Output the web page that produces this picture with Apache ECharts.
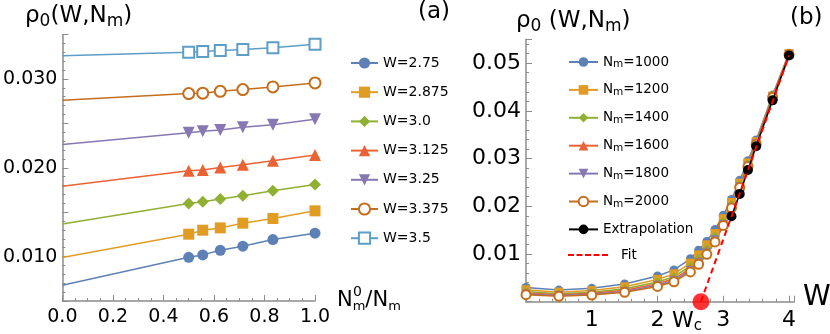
<!DOCTYPE html>
<html><head><meta charset="utf-8">
<script src="https://cdn.jsdelivr.net/npm/echarts@6/dist/echarts.min.js"></script>
<style>html,body{margin:0;padding:0;background:#fff}#c{width:830px;height:334px}</style>
</head><body><div id="c"></div>
<script>
// ---------- DATA ----------
const W_VALUES = [0, 0.5, 1, 1.5, 2, 2.25, 2.5, 2.625, 2.75, 2.875, 3, 3.125, 3.25, 3.375, 3.5, 3.75, 4];
const NM_VALUES = [1000, 1200, 1400, 1600, 1800, 2000];
const N0M = 1000;
const rho1000 = [0.0030, 0.00244, 0.0028, 0.0037, 0.0054, 0.00667, 0.0090, 0.0108, 0.01263, 0.01515, 0.01812, 0.02143, 0.02545, 0.02955, 0.0339, 0.0433, 0.0521];
const rho1200 = [0.00249, 0.00200, 0.00233, 0.00312, 0.00467, 0.00584, 0.00808, 0.00982, 0.01192, 0.01429, 0.0174, 0.0208, 0.02485, 0.0291, 0.0335, 0.0431, 0.0520];
const rho1400 = [0.00212, 0.00169, 0.0020, 0.00271, 0.00414, 0.00524, 0.00743, 0.00912, 0.01117, 0.01376, 0.01684, 0.02034, 0.02455, 0.0288, 0.0333, 0.0430, 0.0519];
const rho1600 = [0.00185, 0.00146, 0.00175, 0.0024, 0.00375, 0.0048, 0.00694, 0.00859, 0.01071, 0.01323, 0.01647, 0.02004, 0.02425, 0.0286, 0.0332, 0.0429, 0.05188];
const rho1800 = [0.00163, 0.00128, 0.00156, 0.00215, 0.00344, 0.00445, 0.00656, 0.00818, 0.01019, 0.01297, 0.01617, 0.01974, 0.0241, 0.0284, 0.0331, 0.04286, 0.05183];
const rho2000 = [0.00146, 0.00113, 0.0014, 0.00196, 0.0032, 0.00417, 0.00625, 0.00785, 0.00992, 0.01252, 0.01598, 0.01966, 0.02395, 0.02835, 0.0330, 0.0428, 0.0518];
const extrapW = [3.125, 3.25, 3.375, 3.5, 3.75, 4];
const extrapRho = [0.0179, 0.0226, 0.0276, 0.0326, 0.0422, 0.0516];
const leftWLabels = ['2.75', '2.875', '3.0', '3.125', '3.25', '3.375', '3.5'];
const leftWIndex = [8, 9, 10, 11, 12, 13, 14];
const leftIntercept = [0.00677, 0.00989, 0.01368, 0.01793, 0.02263, 0.0276, 0.0326];
const fitW = [2.66, 4];
const fitRho = [0, 0.0516];
const wcPoint = [2.66, 0];

// ---------- STYLE ----------
const FONT = 'DejaVu Sans';
const rhoByNm = [rho1000, rho1200, rho1400, rho1600, rho1800, rho2000];
const COLORS = ['#5E81B5', '#E19C24', '#8FB032', '#EB6235', '#8778B3', '#C56E1A', '#5D9EC7'];
const DOWN = 'path://M0,0L20,0L10,17Z';
const SYMS = ['circle', 'rect', 'diamond', 'triangle', DOWN, 'emptyCircle', 'emptyRect'];
const SIZE_L = [11, 11, 12, 12, 12, 11, 11];
const SIZE_R = [9, 9, 9, 9, 9, 9];
const AX = '#8c8c8c';
const DASH_ICON = 'path://M0,0h6v2h-6zM8.5,0h6v2h-6zM17,0h6v2h-6zM25.5,0h6v2h-6zM34,0h6v2h-6z';

function axisCommon() {
  return {
    axisLine: {show: true, onZero: false, lineStyle: {color: AX, width: 1.5}},
    axisTick: {show: true, inside: true, length: 6, lineStyle: {color: AX, width: 1}},
    minorTick: {show: true, length: 3, lineStyle: {color: AX, width: 1}},
    splitLine: {show: false},
    axisLabel: {color: '#000', fontFamily: FONT}
  };
}
function near(v, step) { return Math.abs(v / step - Math.round(v / step)) < 1e-6; }

const series = [];
// Left panel
leftWLabels.forEach((lab, k) => {
  const data = [{value: [0, leftIntercept[k]], symbol: 'none'}];
  NM_VALUES.slice().reverse().forEach((n) => {
    const j = NM_VALUES.indexOf(n);
    data.push([N0M / n, rhoByNm[j][leftWIndex[k]]]);
  });
  series.push({
    name: 'W=' + lab, type: 'line', xAxisIndex: 0, yAxisIndex: 0,
    data, symbol: SYMS[k], symbolSize: SIZE_L[k], showAllSymbol: true,
    lineStyle: {color: COLORS[k], width: 1.5},
    itemStyle: {color: COLORS[k], borderColor: COLORS[k], borderWidth: (k >= 5 ? 1.6 : 0)},
    emphasis: {disabled: true}
  });
});
// Right panel
NM_VALUES.forEach((n, j) => {
  series.push({
    name: 'N_m=' + n, type: 'line', xAxisIndex: 1, yAxisIndex: 1,
    data: W_VALUES.map((w, i) => [w, rhoByNm[j][i]]),
    symbol: SYMS[j], symbolSize: SIZE_R[j], showAllSymbol: true,
    lineStyle: {color: COLORS[j], width: 1.5},
    itemStyle: {color: COLORS[j], borderColor: COLORS[j], borderWidth: (j >= 5 ? 1.5 : 0)},
    emphasis: {disabled: true}
  });
});
series.push({
  name: 'Extrapolation', type: 'line', xAxisIndex: 1, yAxisIndex: 1,
  data: extrapW.map((w, i) => [w, extrapRho[i]]),
  symbol: 'circle', symbolSize: 10, lineStyle: {color: '#000', width: 1.5},
  itemStyle: {color: '#000'}, z: 5, emphasis: {disabled: true}
});
series.push({
  name: 'Fit', type: 'line', xAxisIndex: 1, yAxisIndex: 1,
  data: fitW.map((w, i) => [w, fitRho[i]]),
  symbol: 'none', lineStyle: {color: '#ff0000', width: 2, type: [6, 4]},
  itemStyle: {color: '#ff0000'}, z: 6, emphasis: {disabled: true}
});
series.push({
  name: 'Wc', type: 'scatter', xAxisIndex: 1, yAxisIndex: 1,
  data: [wcPoint], symbol: 'circle', symbolSize: 17,
  itemStyle: {color: '#ff0000'}, z: 7, emphasis: {disabled: true}
});

const rich = {
  n: {fontSize: 13.5, fontFamily: FONT, color: '#000', lineHeight: 16},
  s: {fontSize: 10.5, fontFamily: FONT, color: '#000', lineHeight: 10, verticalAlign: 'bottom'}
};
function richText(x, y, text, big, small) {
  return {type: 'text', x, y, style: {text, align: 'left', verticalAlign: 'top', rich: {
    a: {fontSize: big, fontFamily: FONT, fill: '#000', lineHeight: big + 4},
    s: {fontSize: small, fontFamily: FONT, fill: '#000', lineHeight: small, verticalAlign: 'bottom'}}}};
}

const option = {
  animation: false,
  backgroundColor: '#fff',
  grid: [
    {left: 60, top: 34.5, width: 255, height: 266.5},
    {left: 526, top: 39.3, width: 268.3, height: 262.4}
  ],
  xAxis: [
    Object.assign(axisCommon(), {gridIndex: 0, type: 'value', min: 0, max: 1, interval: 0.2,
      minorTick: {show: true, splitNumber: 4, length: 3, lineStyle: {color: AX}},
      axisLabel: {color: '#000', fontFamily: FONT, fontSize: 19, margin: 7, formatter: v => v.toFixed(1)}}),
    Object.assign(axisCommon(), {gridIndex: 1, type: 'value', min: 0, max: 4.08, interval: 1,
      minorTick: {show: true, splitNumber: 5, length: 3, lineStyle: {color: AX}},
      axisLabel: {color: '#000', fontFamily: FONT, fontSize: 22, margin: 8, showMaxLabel: false,
        formatter: v => (v > 0 && near(v, 1)) ? String(Math.round(v)) : ''}})
  ],
  yAxis: [
    Object.assign(axisCommon(), {gridIndex: 0, type: 'value', min: 0.005, max: 0.035, interval: 0.005,
      minorTick: {show: true, splitNumber: 5, length: 3, lineStyle: {color: AX}},
      axisLabel: {color: '#000', fontFamily: FONT, fontSize: 19, margin: 5,
        formatter: v => (near(v, 0.01) && v < 0.034) ? v.toFixed(3) : ''}}),
    Object.assign(axisCommon(), {gridIndex: 1, type: 'value', min: 0, max: 0.055, interval: 0.01,
      minorTick: {show: true, splitNumber: 5, length: 3, lineStyle: {color: AX}},
      axisLabel: {color: '#000', fontFamily: FONT, fontSize: 22, margin: 5, showMaxLabel: false,
        formatter: v => (v > 0 && near(v, 0.01)) ? v.toFixed(2) : ''}})
  ],
  legend: [
    {data: leftWLabels.map(l => 'W=' + l), orient: 'vertical', left: 345, top: 51,
      itemWidth: 27, itemHeight: 14, itemGap: 15.2, selectedMode: false,
      textStyle: {fontSize: 14, fontFamily: FONT, color: '#000'}},
    {data: NM_VALUES.map(n => 'N_m=' + n).concat(['Extrapolation']), orient: 'vertical', left: 563, top: 50,
      itemWidth: 29, itemHeight: 12, itemGap: 12.9, selectedMode: false,
      formatter: name => name.indexOf('N_m=') === 0 ? '{n|N}{s|m}{n|=' + name.slice(4) + '}' : '{n|' + name + '}',
      textStyle: {fontSize: 13.5, fontFamily: FONT, color: '#000', rich}},
    {data: [{name: 'Fit', icon: DASH_ICON, itemStyle: {color: '#ff0000'}}], orient: 'vertical', left: 563, top: 243,
      itemWidth: 40, itemHeight: 2, selectedMode: false, itemGap: 10,
      textStyle: {fontSize: 13.5, fontFamily: FONT, color: '#000', padding: [0, 0, 0, 8]}}
  ],
  graphic: [
    richText(25, 3, '{a|ρ}{s|0}{a|(W,N}{s|m}{a|)}', 23, 17),
    richText(516, 8, '{a|ρ}{s|0}{a| (W,N}{s|m}{a|)}', 23, 17),
    {type: 'text', x: 418, y: 1, style: {text: '(a)', fontSize: 23, fontFamily: FONT, fill: '#000', verticalAlign: 'top'}},
    {type: 'text', x: 790, y: 7, style: {text: '(b)', fontSize: 23, fontFamily: FONT, fill: '#000', verticalAlign: 'top'}},
    {type: 'text', x: 803, y: 284, style: {text: 'W', fontSize: 28, fontFamily: FONT, fill: '#000', verticalAlign: 'top'}},
    richText(672, 308, '{a|W}{s|c}', 22, 15),
    richText(337, 288, '{a|N}{s|m}{a|/N}{s|m}', 21, 13),
    {type: 'text', x: 353, y: 285, style: {text: '0', fontSize: 14, fontFamily: FONT, fill: '#000', verticalAlign: 'top'}}
  ],
  series
};
const chart = echarts.init(document.getElementById('c'), null, {renderer: 'canvas'});
chart.setOption(option);
</script></body></html>
